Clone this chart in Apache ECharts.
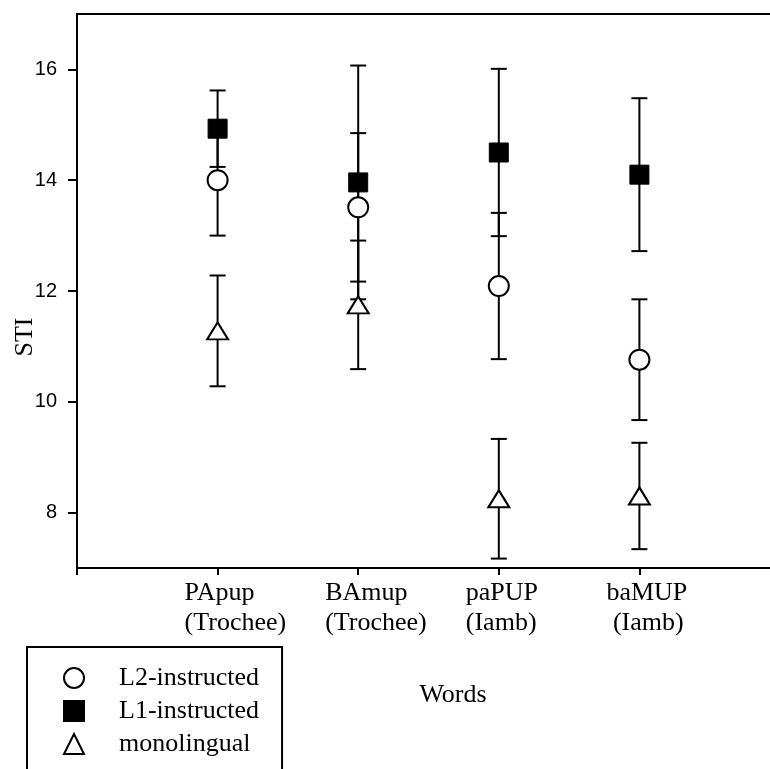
<!DOCTYPE html>
<html>
<head>
<meta charset="utf-8">
<script src="https://cdn.jsdelivr.net/npm/echarts@6/dist/echarts.min.js"></script>
<style>
  html, body { margin: 0; padding: 0; background: #fff; }
  #chart { width: 770px; height: 769px; }
</style>
</head>
<body>
<div id="chart"></div>
<script>
// words on the x axis (positions 1..4)
const categories = ['PApup\n(Trochee)', 'BAmup\n(Trochee)', 'paPUP\n(Iamb)', 'baMUP\n (Iamb)']
const yTicks = [8, 10, 12, 14, 16]

// means and error bar half-widths per group
const l2Mean = [14.0, 13.51, 12.09, 10.76]
const l2Err = [1.0, 1.34, 1.32, 1.09]
const l1Mean = [14.93, 13.96, 14.5, 14.1]
const l1Err = [0.69, 2.11, 1.51, 1.38]
const monoMean = [11.28, 11.75, 8.25, 8.3]
const monoErr = [1.0, 1.16, 1.08, 0.96]

const serif = 'Liberation Serif'
const sans = 'Liberation Sans'

const points = (means) => means.map((v, i) => [i + 1, v])
const bars = (means, errs) => means.map((v, i) => [i + 1, v - errs[i], v + errs[i]])

const errorBar = (name, means, errs) => ({
  name: name + '-err',
  type: 'custom',
  z: 1,
  silent: true,
  data: bars(means, errs),
  renderItem: (params, api) => {
    const lo = api.coord([api.value(0), api.value(1)])
    const hi = api.coord([api.value(0), api.value(2)])
    const half = 8
    const style = { stroke: '#000', lineWidth: 2 }
    return {
      type: 'group',
      children: [
        { type: 'line', shape: { x1: hi[0], y1: hi[1], x2: lo[0], y2: lo[1] }, style },
        { type: 'line', shape: { x1: hi[0] - half, y1: hi[1], x2: hi[0] + half, y2: hi[1] }, style },
        { type: 'line', shape: { x1: lo[0] - half, y1: lo[1], x2: lo[0] + half, y2: lo[1] }, style }
      ]
    }
  }
})

const chart = echarts.init(document.getElementById('chart'))

chart.setOption({
  animation: false,
  title: {
    text: 'Words',
    left: 453,
    top: 680,
    textAlign: 'center',
    padding: 0,
    textStyle: { fontFamily: serif, fontSize: 26, fontWeight: 'normal', color: '#000', lineHeight: 30 }
  },
  grid: {
    left: 77,
    top: 14,
    right: -10,
    bottom: 201,
    outerBoundsMode: 'none',
    containLabel: false,
    show: true,
    borderColor: '#000',
    borderWidth: 2
  },
  legend: {
    orient: 'vertical',
    left: 27,
    top: 647,
    height: 300,
    padding: [18, 23, 40, 36],
    itemWidth: 20,
    itemHeight: 20,
    itemGap: 7,
    borderColor: '#000',
    borderWidth: 2,
    data: ['L2-instructed', 'L1-instructed', 'monolingual'],
    textStyle: { fontFamily: serif, fontSize: 26, color: '#000', lineHeight: 26, padding: [0, 0, 0, 30] }
  },
  xAxis: {
    type: 'value',
    min: 0,
    max: 5,
    interval: 1,
    splitLine: { show: false },
    axisLine: { lineStyle: { color: '#000', width: 2 } },
    axisTick: { length: 7, lineStyle: { color: '#000', width: 2 }, customValues: [0, 1, 2, 3, 4, 5] },
    axisLabel: {
      customValues: [1, 2, 3, 4],
      formatter: (v) => categories[v - 1] || '',
      align: 'left',
      verticalAlign: 'top',
      padding: [0, 0, 0, -33],
      margin: 10,
      fontFamily: serif,
      fontSize: 26,
      lineHeight: 30,
      color: '#000'
    }
  },
  yAxis: {
    type: 'value',
    min: 7,
    max: 17,
    interval: 1,
    name: 'STI',
    nameLocation: 'middle',
    nameGap: 39,
    nameMoveOverlap: false,
    nameRotate: 90,
    nameTextStyle: { fontFamily: serif, fontSize: 26, color: '#000', padding: [0, 92, 0, 0] },
    splitLine: { show: false },
    axisLine: { lineStyle: { color: '#000', width: 2 } },
    axisTick: { length: 9, lineStyle: { color: '#000', width: 2 }, customValues: yTicks },
    axisLabel: { customValues: yTicks, margin: 20, fontFamily: sans, fontSize: 20, color: '#000' }
  },
  series: [
    errorBar('L2-instructed', l2Mean, l2Err),
    errorBar('L1-instructed', l1Mean, l1Err),
    errorBar('monolingual', monoMean, monoErr),
    {
      name: 'L2-instructed',
      type: 'scatter',
      z: 3,
      symbol: 'circle',
      symbolSize: 20,
      itemStyle: { color: '#fff', borderColor: '#000', borderWidth: 2, opacity: 1 },
      data: points(l2Mean)
    },
    {
      name: 'L1-instructed',
      type: 'scatter',
      z: 4,
      symbol: 'rect',
      symbolSize: 19,
      itemStyle: { color: '#000', borderColor: '#000', borderWidth: 1, opacity: 1 },
      data: points(l1Mean)
    },
    {
      name: 'monolingual',
      type: 'scatter',
      z: 3,
      symbol: 'triangle',
      symbolSize: [21, 17],
      itemStyle: { color: '#fff', borderColor: '#000', borderWidth: 2, opacity: 1 },
      data: points(monoMean)
    }
  ]
})
</script>
</body>
</html>
